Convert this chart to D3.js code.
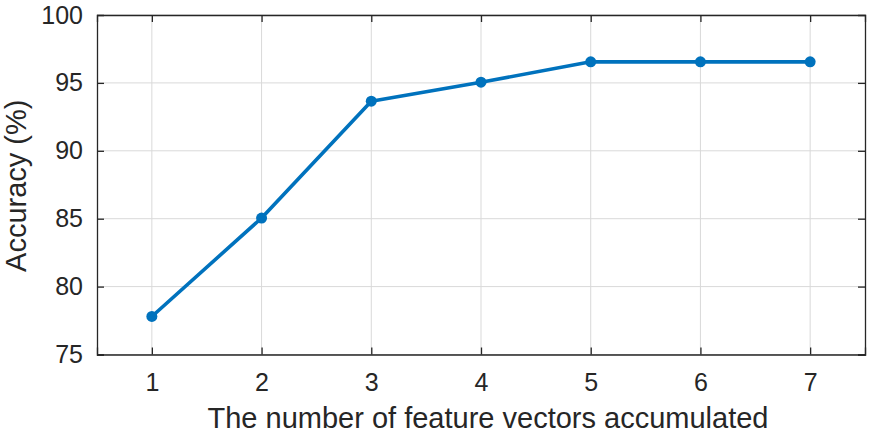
<!DOCTYPE html>
<html><head><meta charset="utf-8">
<script src="https://cdn.jsdelivr.net/npm/d3@7"></script>
<style>body{margin:0;background:#fff;}svg{display:block;font-family:"Liberation Sans",Arial,sans-serif;}</style>
</head><body><svg id="c" width="871" height="440"></svg>
<script>
const categories = [1, 2, 3, 4, 5, 6, 7];
const accuracy = [77.8, 85.05, 93.65, 95.05, 96.55, 96.55, 96.55];
const yTicks = [75, 80, 85, 90, 95, 100];
const xLabel = "The number of feature vectors accumulated";
const yLabel = "Accuracy (%)";

const svg = d3.select("#c");
const L = 97, R = 865, T = 15, B = 354.5;
const x = d3.scaleLinear().domain([0.5, 7.5]).range([L, R]);
const y = d3.scaleLinear().domain([75, 100]).range([B, T]);
const axisColor = "#262626";

// grid
svg.append("g").selectAll("line").data(categories).join("line")
  .attr("x1", d => x(d)).attr("x2", d => x(d)).attr("y1", T).attr("y2", B)
  .attr("stroke", "#d9d9d9").attr("stroke-width", 1);
svg.append("g").selectAll("line").data(yTicks).join("line")
  .attr("x1", L).attr("x2", R).attr("y1", d => y(d)).attr("y2", d => y(d))
  .attr("stroke", "#d9d9d9").attr("stroke-width", 1);

// axes
const tl = 7;
const gx = svg.append("g").attr("transform", `translate(0,${B})`)
  .call(d3.axisBottom(x).tickValues(categories).tickSize(-tl).tickPadding(19).tickFormat(d3.format("d")));
const gxt = svg.append("g").attr("transform", `translate(0,${T})`)
  .call(d3.axisTop(x).tickValues(categories).tickSize(-tl).tickFormat(""));
const gy = svg.append("g").attr("transform", `translate(${L},0)`)
  .call(d3.axisLeft(y).tickValues(yTicks).tickSize(-tl).tickPadding(14));
const gyr = svg.append("g").attr("transform", `translate(${R},0)`)
  .call(d3.axisRight(y).tickValues(yTicks).tickSize(-tl).tickFormat(""));
[gx, gxt, gy, gyr].forEach(g => {
  g.select(".domain").attr("stroke", axisColor).attr("stroke-width", 1.3);
  g.selectAll(".tick line").attr("stroke", axisColor).attr("stroke-width", 1.3);
  g.selectAll("text").attr("fill", axisColor).attr("font-size", 25)
    .attr("font-family", "'Liberation Sans',Arial,sans-serif");
});
gy.select(".tick:last-of-type line").remove();
gyr.select(".tick:last-of-type line").remove();

// line
svg.append("path").datum(categories.map((c, i) => [c, accuracy[i]]))
  .attr("fill", "none").attr("stroke", "#0072BD").attr("stroke-width", 3.6)
  .attr("stroke-linejoin", "round")
  .attr("d", d3.line().x(d => x(d[0])).y(d => y(d[1])));
svg.append("g").selectAll("circle").data(categories).join("circle")
  .attr("cx", d => x(d)).attr("cy", (d, i) => y(accuracy[i])).attr("r", 5.5)
  .attr("fill", "#0072BD");

// labels
svg.append("text").attr("x", 488).attr("y", 428).attr("text-anchor", "middle")
  .attr("font-size", 29).attr("fill", axisColor).text(xLabel);
svg.append("text").attr("transform", `translate(26,${(T + B) / 2 + 1}) rotate(-90)`)
  .attr("text-anchor", "middle").attr("font-size", 29).attr("fill", axisColor).text(yLabel);
</script></body></html>
